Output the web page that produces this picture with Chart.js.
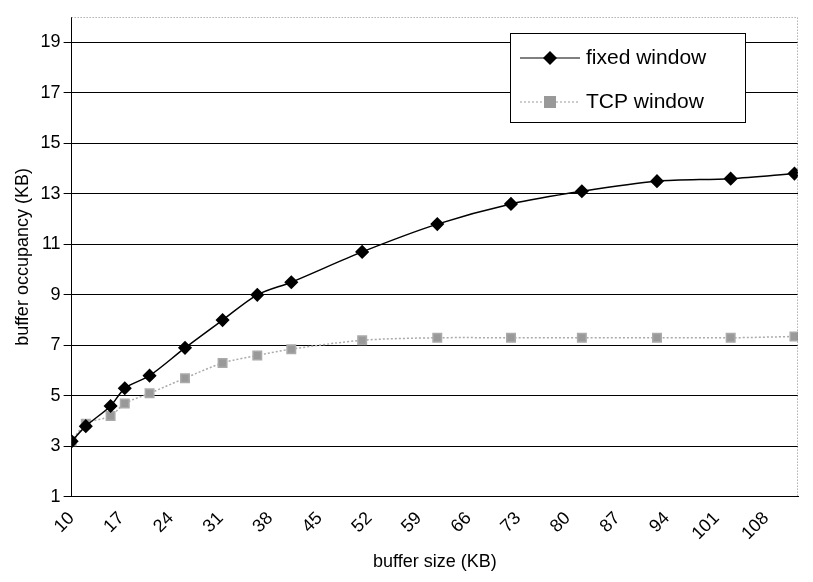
<!DOCTYPE html>
<html><head><script src="https://cdn.jsdelivr.net/npm/chart.js@4"></script>
<style>body{margin:0;background:#fff}</style></head>
<body><canvas id="c" width="813" height="582"></canvas>
<script>
const xs=[10,12,15.5,17.5,21,26,31.3,36.2,41,51,61.6,72,82,92.6,103,112];
const fixedWin=[3.2,3.8,4.6,5.3,5.8,6.9,8.0,9.0,9.5,10.7,11.8,12.6,13.1,13.5,13.6,13.8];
const tcpWin=[3.2,3.9,4.2,4.7,5.1,5.7,6.3,6.6,6.85,7.2,7.3,7.3,7.3,7.3,7.3,7.35];
const yTicks=[1,3,5,7,9,11,13,15,17,19];
const pts=a=>a.map((v,i)=>({x:xs[i],y:v}));
const legendPlugin={id:'lg',afterDraw(ch){const c=ch.ctx;c.save();
c.fillStyle='#fff';c.fillRect(510,33,235,89);c.strokeStyle='#000';c.lineWidth=1;c.strokeRect(510.5,33.5,235,89);
c.font='21px Arial';c.fillStyle='#000';c.textBaseline='middle';
c.beginPath();c.moveTo(520,58);c.lineTo(580,58);c.stroke();
c.beginPath();c.moveTo(550,51);c.lineTo(557,58);c.lineTo(550,65);c.lineTo(543,58);c.closePath();c.fill();
c.fillText('fixed window',586,58);
c.strokeStyle='#999';c.setLineDash([2,2]);c.beginPath();c.moveTo(520,102);c.lineTo(580,102);c.stroke();c.setLineDash([]);
c.fillStyle='#999';c.fillRect(544,96,12,12);c.fillStyle='#000';c.fillText('TCP window',586,102);
const a=ch.chartArea;c.strokeStyle='#888';c.setLineDash([1,2]);c.beginPath();c.moveTo(a.left,a.top+0.5);c.lineTo(a.right-0.5,a.top+0.5);c.lineTo(a.right-0.5,a.bottom);c.stroke();
c.restore();}};
new Chart(document.getElementById('c'),{type:'scatter',data:{datasets:[
{label:'fixed window',data:pts(fixedWin),showLine:true,borderColor:'#000',backgroundColor:'#000',borderWidth:1.5,pointStyle:'rectRot',pointRadius:6,tension:0.3},
{label:'TCP window',data:pts(tcpWin),showLine:true,borderColor:'#aaa',backgroundColor:'#999',borderWidth:1.5,borderDash:[2,2],pointStyle:'rect',pointRadius:6,tension:0.3}]},
options:{responsive:false,animation:false,layout:{padding:{top:17,right:15,left:8,bottom:5}},
plugins:{legend:{display:false},tooltip:{enabled:false}},
scales:{x:{type:'linear',min:10,max:112.5,afterBuildTicks:s=>{s.ticks=[];for(let v=10;v<=108;v+=7)s.ticks.push({value:v});},
grid:{display:false,drawTicks:true},border:{color:'#000'},
ticks:{color:'#000',font:{size:18,family:'Arial'},maxRotation:45,minRotation:45,autoSkip:false},
title:{display:true,text:'buffer size (KB)',color:'#000',font:{size:18,family:'Arial'}}},
y:{min:1,max:20,afterBuildTicks:s=>{s.ticks=yTicks.map(v=>({value:v}));},
grid:{color:'#000',lineWidth:1},border:{color:'#000'},
ticks:{color:'#000',font:{size:18,family:'Arial'}},
title:{display:true,text:'buffer occupancy (KB)',color:'#000',font:{size:18,family:'Arial'}}}}},
plugins:[legendPlugin]});
</script></body></html>
